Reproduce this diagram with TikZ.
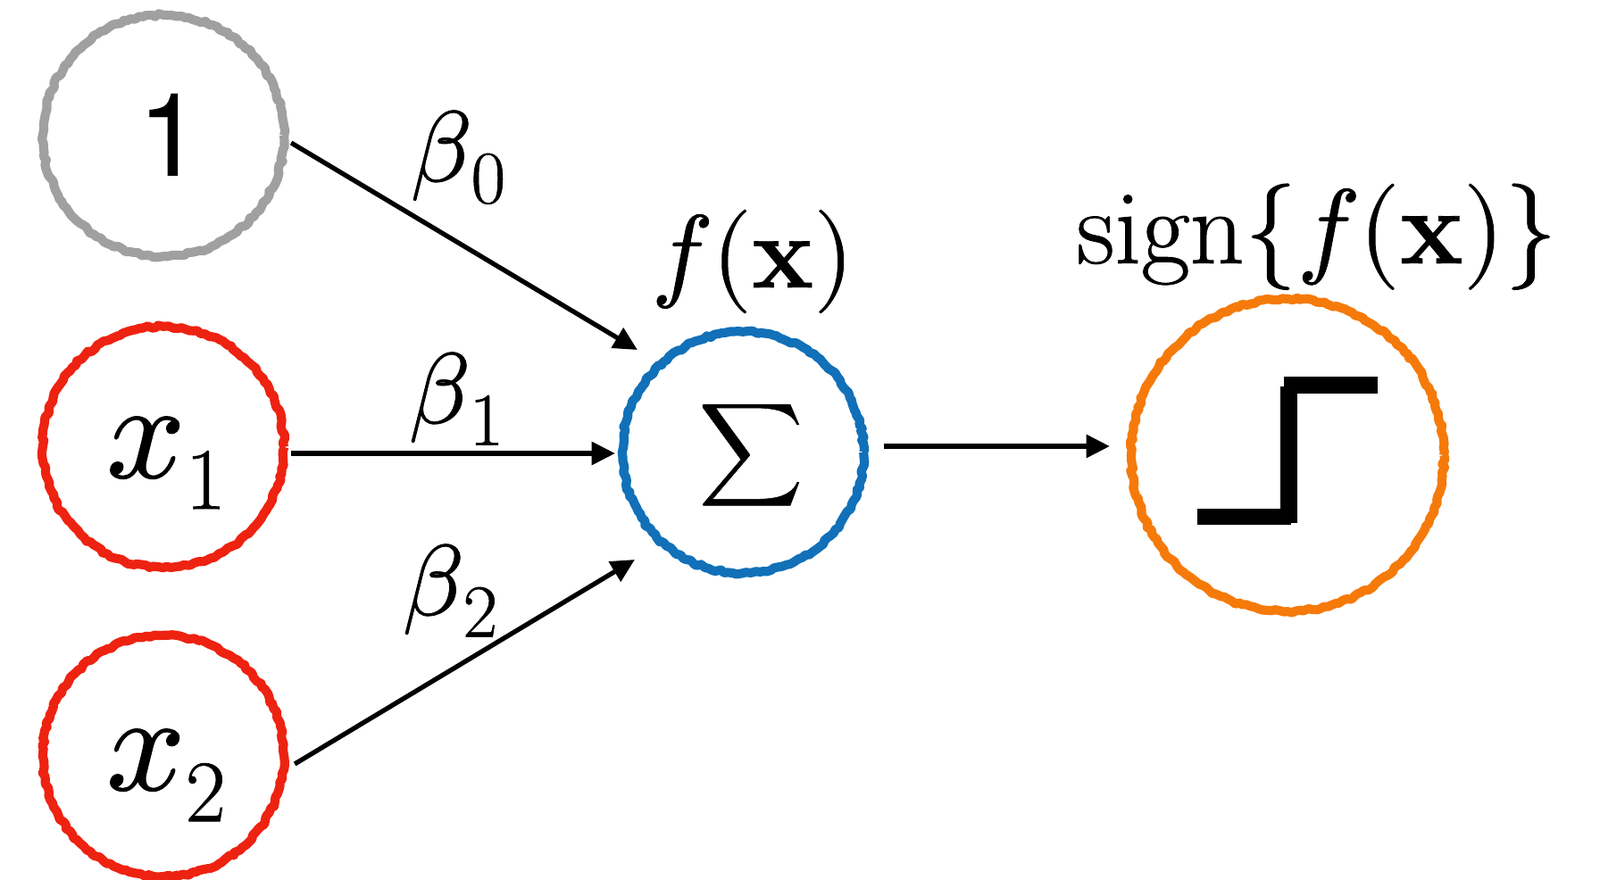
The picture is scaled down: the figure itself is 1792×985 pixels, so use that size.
\documentclass[tikz,border=0pt]{standalone}
\usepackage{fontspec}
\usepackage{unicode-math}
\setmainfont{Latin Modern Roman}[FakeBold=0.7]
\setmathfont{Latin Modern Math}[FakeBold=0.7]
\newfontfamily\sansone{TeX Gyre Heros}
\usetikzlibrary{arrows.meta,decorations.pathmorphing}
\definecolor{cgray}{HTML}{A0A0A0}
\definecolor{cred}{HTML}{EE2211}
\definecolor{cblue}{HTML}{1170B8}
\definecolor{corange}{HTML}{F57A0A}
\newcommand{\fsz}[1]{\fontsize{#1pt}{#1pt}\selectfont}
\newcommand{\subs}[3]{\raisebox{#1pt}{\fsz{#2}#3}}
\tikzset{
  x=0.01cm,y=-0.01cm,
  ring/.style={circle,draw=#1,line width=2.9pt,line join=round,outer sep=0pt,inner sep=0pt,
    minimum size=2.7cm,
    decorate,decoration={random steps,segment length=1.3pt,amplitude=0.45pt}},
  wire/.style={draw=black,line width=1.5pt,-{Triangle[length=7.5pt,width=7.2pt]}},
  lab/.style={inner sep=0pt,anchor=base,text=black},
  stepbar/.style={fill=black,draw=none}
}
\begin{document}
\begin{tikzpicture}
\useasboundingbox (0,0) rectangle (1792,985);
\node[ring=cgray] (n0) at (183,152) {};
\node[ring=cred] (n1) at (183,501) {};
\node[ring=cred] (n2) at (183,847) {};
\node[ring=cblue] (s) at (832,507) {};
\node[ring=corange,minimum size=3.5cm] (o) at (1442,510) {};
\draw[wire] ([shift={(8,8)}]n0.east) -- ([shift={(17,-115)}]s.west);
\draw[wire] ([shift={(8,7)}]n1.east) -- ([shift={(-8,1)}]s.west);
\draw[wire] ([shift={(12,9)}]n2.east) -- ([shift={(14,120)}]s.west);
\draw[wire] ([shift={(23,-7)}]s.east) -- ([shift={(-24,-10)}]o.west);
\node[lab] (t0) at (191,197) {\sansone\fsz{37}1};
\node[lab] (t1) at (186,535) {\fsz{44}$x$\subs{-10}{28}{1}};
\node[lab] (t2) at (186,885) {\fsz{44}$x$\subs{-10}{28}{2}};
\node[lab] (b0) at (513,203) {\fsz{32}$\beta$\subs{-7}{24}{0}};
\node[lab] (b1) at (511,474) {\fsz{32}$\beta$\subs{-7}{24}{1}};
\node[lab] (b2) at (504,689) {\fsz{32}$\beta$\subs{-7}{24}{2}};
\node[lab] (sg) at (841,530) {\fsz{23}$\displaystyle\sum$};
\node[lab] (fx) at (843,322) {\fsz{33}$f(\mathbf{x})$};
\node[lab] (sf) at (1475,295) {\fsz{33.8}sign$\{f(\mathbf{x})\}$};
\fill[stepbar] (1341,570) rectangle (1446,588);
\fill[stepbar] (1434,433) rectangle (1453,586);
\fill[stepbar] (1438,422) rectangle (1543,441);
\end{tikzpicture}
\end{document}
